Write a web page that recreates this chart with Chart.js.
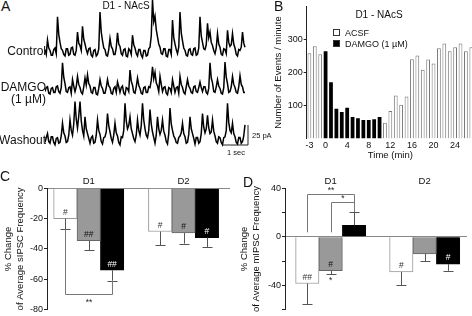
<!DOCTYPE html>
<html>
<head>
<meta charset="utf-8">
<script src="https://cdn.jsdelivr.net/npm/chart.js@4.4.1/dist/chart.umd.min.js"></script>
<style>
    body { margin: 0; width: 472px; height: 316px; overflow: hidden; background: #fff; position: relative; font-family: 'Liberation Sans', Arial, sans-serif; color: #111; }
    canvas { position: absolute; }
    .t { position: absolute; white-space: nowrap; line-height: 1; }
    .mid { transform: translate(-50%, -50%); }
    .rgt { transform: translate(-100%, -50%); }
    .lft { transform: translate(0, -50%); }
    .box { position: absolute; width: 7px; height: 7px; box-sizing: border-box; border: 1px solid #333; }
</style>
</head>
<body>

<canvas id="traceChart" width="205" height="160" style="left:45px;top:0"></canvas>
<canvas id="timeChart" width="240" height="162" style="left:236px;top:0"></canvas>
<canvas id="spontChart" width="236" height="156" style="left:0;top:160px"></canvas>
<canvas id="miniChart" width="236" height="156" style="left:236px;top:160px"></canvas>

<div class="t" style="left:1px;top:-1px;font-size:14px">A</div>
<div class="t mid" style="left:126px;top:6px;font-size:10px">D1 - NAcS</div>
<div class="t rgt" style="left:46px;top:51px;font-size:12px">Control</div>
<div class="t rgt" style="left:46px;top:87px;font-size:12px">DAMGO</div>
<div class="t rgt" style="left:46px;top:99px;font-size:12px">(1 µM)</div>
<div class="t rgt" style="left:46px;top:140px;font-size:12px">Washout</div>
<div class="t lft" style="left:252px;top:136px;font-size:7.5px">25 pA</div>
<div class="t mid" style="left:236px;top:153px;font-size:7.5px">1 sec</div>

<div class="t" style="left:274px;top:-1px;font-size:14px">B</div>
<div class="t mid" style="left:379px;top:15px;font-size:10px">D1 - NAcS</div>
<div class="box" style="left:333px;top:29px;background:#fff"></div>
<div class="t lft" style="left:345px;top:33px;font-size:9px">ACSF</div>
<div class="box" style="left:333px;top:40px;background:#000"></div>
<div class="t lft" style="left:345px;top:44px;font-size:9px">DAMGO (1 µM)</div>

<div class="t" style="left:0;top:169px;font-size:14px">C</div>
<div class="t" style="left:243px;top:175px;font-size:14px">D</div>

<script>
// ---- A: example traces, pA relative to baseline, sampled every 0.05 s ----
const traceStep = 0.05;
const traceControl = [3, -3, 15, 5, 2, -4, -4, 3, 5, -2, 44, 22, 12, 4, 2, -3, -5, 4, 4, -4,
    -3, 5, 6, -3, -4, 2, 25, 11, 8, 2, 32, 16, 10, 3, -2, 4, 5, -4, -6, 2,
    3, -5, -3, 4, 50, 25, 14, 5, 3, -4, -5, 3, 17, 7, 4, -3, -3, 5, 24, 10,
    7, -2, -4, 3, 4, -5, -6, 4, 2, -3, 21, 9, 5, -2, -5, 3, 3, -4, -7, 2,
    2, -5, -4, 4, 6, 20, 65, 38, 45, 28, 19, 10, 6, -2, -3, 4, 4, -5, -6, 3,
    3, -3, 40, 18, 10, 3, -2, 6, 50, 24, 14, 5, 2, -4, -5, 3, 4, -3, -4, 4,
    5, -4, -3, 5, 44, 20, 12, 4, 3, 9, 36, 18, 25, 12, 8, 2, -2, 5, 23, 10,
    6, -3, -4, 4, 3, -2, 27, 12, 7, 9, 23, 10, 5, -3, -5, 3, 2, 6, 25, 11, 6];
const traceDamgo = [-2, 3, 4, -4, -5, 2, 3, -3, -3, 4, 5, -2, -4, 3, 34, 16, 8, -2, -3, 3,
    4, -4, 13, 5, -2, 4, 17, 7, 3, -3, -5, 4, 15, 6, 19, 8, 5, -3, -4, 3,
    3, -5, -6, 2, 13, 5, 2, -4, -4, 3, 13, 5, 3, -4, -5, 2, 4, -3, 10, 4,
    -3, 3, 5, -4, -6, 3, 2, -2, 25, 11, 6, -3, -4, 4, 15, 6, 2, -4, -5, 3,
    4, -3, -3, 4, 3, 12, 29, 14, 22, 9, 5, -2, 17, 7, -2, 3, 4, -4, -6, 3,
    2, -3, 13, 5, -3, 3, 4, -4, 17, 7, 3, -3, -5, 4, 13, 5, 2, -3, -4, 4,
    5, -2, -3, 3, 10, 3, -2, 4, 4, -3, -5, 2, 34, 15, 9, -2, -3, 4, 13, 5,
    2, -4, -5, 3, 35, 16, 8, -3, -2, 4, 17, 7, 3, -3, -4, 4, 18, 7, 4, -3, -3];
const traceWashout = [-3, 3, 8, -2, -4, 4, 4, -3, -6, 2, 3, -4, -3, 5, 21, 9, 5, -3, -2, 6,
    25, 12, 6, 20, 48, 26, 15, 30, 48, 24, 12, 5, 29, 14, 8, 2, -4, 3, 5, -4,
    -3, 6, 25, 12, 7, -2, -5, 3, 4, 10, 33, 18, 10, 2, -3, 6, 21, 9, 5, -3,
    -6, 4, 3, 12, 46, 24, 14, 18, 29, 14, 8, 2, -2, 6, 25, 12, 6, 18, 46, 25,
    14, 6, 3, 12, 38, 20, 10, 3, -4, 6, 29, 14, 7, 12, 25, 11, 6, -2, -5, 8,
    40, 20, 12, 5, 2, -3, -4, 3, 5, 9, 21, 8, 4, -4, -3, 7, 29, 14, 8, 2,
    -5, 3, 3, -4, -2, 8, 33, 16, 9, 14, 31, 15, 8, 10, 25, 11, 5, -2, -4, 4,
    3, -3, -6, 3, 4, 12, 46, 22, 12, 9, 21, 8, 4, -3, -5, 3, 3, -4, -2, 5, 19];
const scaleBarSec = 1;
const scaleBarPA = 25;

// ---- B: events per minute ----
const minutes = [-3, -2, -1, 0, 1, 2, 3, 4, 5, 6, 7, 8, 9, 10, 11, 12, 13, 14, 15, 16,
    17, 18, 19, 20, 21, 22, 23, 24, 25, 26, 27];
const eventCounts = [258, 279, 255, 264, 170, 90, 80, 93, 65, 61, 56, 56, 58, 65, 48, 83, 130, 102, 127, 240,
    251, 208, 239, 227, 273, 288, 264, 276, 288, 264, 276];
const damgoFirst = 0;
const damgoLast = 10;
const minuteTicks = [-3, 0, 4, 8, 12, 16, 20, 24];
const countTicks = [100, 200, 300];

// ---- C / D: % change of average frequency ----
const groupLabels = ['D1', 'D2'];
const sWhite = [-20, -28.5];
const sWhiteErr = [7, 9];
const sGray = [-34.5, -29.5];
const sGrayErr = [6.5, 7];
const sBlack = [-54, -32.5];
const sBlackErr = [7, 6.5];
const sTicks = [0, -20, -40, -60, -80];

const mWhite = [-38.5, -29];
const mWhiteErr = [17, 11];
const mGray = [-28, -14];
const mGrayErr = [3, 6];
const mBlack = [9.5, -22.5];
const mBlackErr = [11, 5.5];
const mTicks = [40, 20, 0, -20, -40, -60];
const mTickLabels = [40, 0, -40];

const FONT = "'Liberation Sans', Arial, sans-serif";
Chart.defaults.font.family = FONT;
Chart.defaults.color = '#111';

// traces
const traceOffsets = [135, 87.5, 25];
const traceSets = [traceControl, traceDamgo, traceWashout].map((tr, k) => ({
    data: tr.map((v, i) => ({ x: i * traceStep, y: v + traceOffsets[k] })),
    borderColor: '#000',
    borderWidth: 1.5,
    pointRadius: 0,
    tension: 0
}));
const barAnchor = { x: 8.12, y: 18.75 };
traceSets.push({
    data: [
        { x: barAnchor.x - scaleBarSec, y: barAnchor.y },
        { x: barAnchor.x, y: barAnchor.y },
        { x: barAnchor.x, y: barAnchor.y + scaleBarPA }
    ],
    borderColor: '#222',
    borderWidth: 1,
    pointRadius: 0,
    clip: false
});

new Chart(document.getElementById('traceChart'), {
    type: 'line',
    data: { datasets: traceSets },
    options: {
        responsive: false,
        animation: false,
        plugins: { legend: { display: false }, tooltip: { enabled: false } },
        layout: { padding: 0 },
        scales: {
            x: { type: 'linear', display: false, min: 0, max: 8.2 },
            y: { display: false, min: 0, max: 200 }
        }
    }
});

// time course
const isDamgo = (m) => m >= damgoFirst && m <= damgoLast;
new Chart(document.getElementById('timeChart'), {
    type: 'bar',
    data: {
        labels: minutes.map(String),
        datasets: [{
            label: 'ACSF',
            data: eventCounts.map((c, i) => isDamgo(minutes[i]) ? null : c),
            backgroundColor: '#fff',
            borderColor: '#777',
            borderWidth: 1,
            borderSkipped: 'bottom',
            grouped: false,
            barPercentage: 0.7,
            categoryPercentage: 1
        }, {
            label: 'DAMGO (1 µM)',
            data: eventCounts.map((c, i) => isDamgo(minutes[i]) ? c : null),
            backgroundColor: '#000',
            borderColor: '#000',
            borderWidth: 0,
            grouped: false,
            barPercentage: 0.7,
            categoryPercentage: 1
        }]
    },
    options: {
        responsive: false,
        animation: false,
        plugins: { legend: { display: false }, tooltip: { enabled: false } },
        layout: { padding: { left: 0, right: 2, top: 0, bottom: 0 } },
        scales: {
            x: {
                offset: true,
                grid: { display: false, drawTicks: false },
                border: { display: false },
                ticks: {
                    autoSkip: false, maxRotation: 0, padding: 2,
                    font: { size: 9 },
                    callback: function (val) {
                        const m = Number(this.getLabelForValue(val));
                        return minuteTicks.includes(m) ? String(m) : '';
                    }
                },
                title: { display: true, text: 'Time (min)', font: { size: 9.5 }, padding: { top: 0, bottom: 1.3 } },
                afterFit: (scale) => { scale.height = 23.5; }
            },
            y: {
                min: 0, max: 400,
                afterBuildTicks: (scale) => { scale.ticks = countTicks.map(v => ({ value: v })); },
                grid: { display: true, drawOnChartArea: false, drawTicks: true, tickLength: 3, tickColor: '#222' },
                border: { display: true, color: '#222', width: 1 },
                ticks: { padding: 1, font: { size: 9 } },
                title: { display: true, text: 'Number of Events / minute', font: { size: 9.5 }, padding: { top: 37, bottom: 0 } },
                afterFit: (scale) => { scale.width = 70.7; }
            }
        }
    }
});

// error bars, in-bar marks and significance brackets
const summaryPlugin = {
    id: 'summaryMarks',
    afterDatasetsDraw(chart, args, opts) {
        const { ctx } = chart;
        const y = chart.scales.y;
        ctx.save();
        chart.data.datasets.forEach((ds, di) => {
            const meta = chart.getDatasetMeta(di);
            meta.data.forEach((bar, i) => {
                const v = ds.data[i].y;
                const sign = v < 0 ? -1 : 1;
                const endPx = y.getPixelForValue(v + sign * ds.errors[i]);
                const cx = Math.round(bar.x) + 0.5;
                ctx.strokeStyle = '#555';
                ctx.lineWidth = 1;
                ctx.beginPath();
                ctx.moveTo(cx, bar.y);
                ctx.lineTo(cx, endPx);
                ctx.moveTo(cx - 5, Math.round(endPx) + 0.5);
                ctx.lineTo(cx + 5, Math.round(endPx) + 0.5);
                ctx.stroke();

                ctx.font = '8.5px ' + FONT;
                ctx.textAlign = 'center';
                ctx.textBaseline = 'middle';
                if (ds.marks[i]) {
                    ctx.fillStyle = ds.markColor;
                    ctx.fillText(ds.marks[i], bar.x, bar.y + sign * 6);
                }
                if (ds.below && ds.below[i]) {
                    ctx.fillStyle = '#222';
                    ctx.fillText(ds.below[i], bar.x, endPx - sign * 6);
                }
            });
        });
        (opts.brackets || []).forEach((b) => {
            const xa = Math.round(chart.getDatasetMeta(b.from).data[b.group].x) + 0.5;
            const xb = Math.round(chart.getDatasetMeta(b.to).data[b.group].x) + 0.5;
            const lv = Math.round(y.getPixelForValue(b.level)) + 0.5;
            ctx.strokeStyle = '#777';
            ctx.lineWidth = 1;
            ctx.beginPath();
            ctx.moveTo(xa, y.getPixelForValue(b.start[0]));
            ctx.lineTo(xa, lv);
            ctx.lineTo(xb, lv);
            ctx.lineTo(xb, y.getPixelForValue(b.start[1]));
            ctx.stroke();
            ctx.fillStyle = '#222';
            ctx.font = '8.5px ' + FONT;
            ctx.textAlign = 'center';
            ctx.textBaseline = 'middle';
            ctx.fillText(b.text, (xa + xb) / 2, b.above ? lv - 4 : lv + 8);
        });
        ctx.restore();
    }
};

function barSet(label, values, errors, marks, fill, edge, markColor, below) {
    return {
        label: label,
        data: values.map((v, i) => ({ x: i, y: v })),
        errors: errors,
        marks: marks,
        below: below,
        markColor: markColor,
        backgroundColor: fill,
        borderColor: edge,
        borderWidth: 1,
        barThickness: 23.4
    };
}

function summaryOptions(cfg) {
    return {
        responsive: false,
        animation: false,
        plugins: {
            legend: { display: false },
            tooltip: { enabled: false },
            summaryMarks: { brackets: cfg.brackets }
        },
        layout: { padding: { left: 0, right: cfg.padRight, top: 0, bottom: cfg.padBottom } },
        scales: {
            x: {
                type: 'linear', position: 'top',
                offset: false, bounds: 'data',
                min: cfg.xMin, max: cfg.xMax,
                afterBuildTicks: (scale) => { scale.ticks = groupLabels.map((g, i) => ({ value: i })); },
                grid: { display: false, drawTicks: false, offset: false },
                border: { display: false },
                ticks: { padding: 1, font: { size: 9.5 }, callback: (v) => groupLabels[v] },
                afterFit: (scale) => { scale.height = 28.3; }
            },
            y: {
                min: cfg.yMin, max: cfg.yMax,
                afterBuildTicks: (scale) => { scale.ticks = cfg.ticks.map(v => ({ value: v })); },
                grid: {
                    display: true, drawOnChartArea: true, drawTicks: true, tickLength: 3,
                    tickColor: '#222',
                    color: (c) => (c.tick && c.tick.value === 0) ? '#888' : 'rgba(0,0,0,0)'
                },
                border: { display: true, color: '#222', width: 1 },
                ticks: {
                    padding: cfg.tickPad, font: { size: 9 },
                    callback: (v) => cfg.labels.includes(v) ? String(v) : ''
                },
                title: {
                    display: true, text: ['% Change', cfg.title],
                    font: { size: 9.5, lineHeight: 1.3 }, padding: { top: 2, bottom: 0 }
                },
                afterFit: (scale) => { scale.width = cfg.axisX; }
            }
        }
    };
}

new Chart(document.getElementById('spontChart'), {
    type: 'bar',
    data: {
        datasets: [
            barSet('Condition 1', sWhite, sWhiteErr, ['#', '#'], '#fff', '#999', '#333'),
            barSet('Condition 2', sGray, sGrayErr, ['##', '#'], '#999', '#666', '#111'),
            barSet('Condition 3', sBlack, sBlackErr, ['##', '#'], '#000', '#000', '#fff')
        ]
    },
    options: summaryOptions({
        xMin: -0.44, xMax: 1.49, yMin: -80, yMax: 0,
        ticks: sTicks, labels: sTicks, tickPad: 1,
        title: 'of Average sIPSC Frequency',
        axisX: 47, padRight: 6, padBottom: 4.3,
        brackets: [{ from: 0, to: 2, group: 0, start: [-27, -61], level: -69.5, text: '**', above: false }]
    }),
    plugins: [summaryPlugin]
});

new Chart(document.getElementById('miniChart'), {
    type: 'bar',
    data: {
        datasets: [
            barSet('Condition 1', mWhite, mWhiteErr, ['##', '#'], '#fff', '#999', '#333'),
            barSet('Condition 2', mGray, mGrayErr, ['#', ''], '#999', '#666', '#111', ['*', '']),
            barSet('Condition 3', mBlack, mBlackErr, ['', '#'], '#000', '#000', '#fff')
        ]
    },
    options: summaryOptions({
        xMin: -0.486, xMax: 1.45, yMin: -60, yMax: 40,
        ticks: mTicks, labels: mTickLabels, tickPad: 1,
        title: 'of Average mIPSC Frequency',
        axisX: 49, padRight: 5, padBottom: 4.2,
        brackets: [
            { from: 0, to: 2, group: 0, start: [3.7, 20.5], level: 35.5, text: '**', above: true },
            { from: 1, to: 2, group: 0, start: [3.7, 20.5], level: 28.4, text: '*', above: true }
        ]
    }),
    plugins: [summaryPlugin]
});
</script>
</body>
</html>
